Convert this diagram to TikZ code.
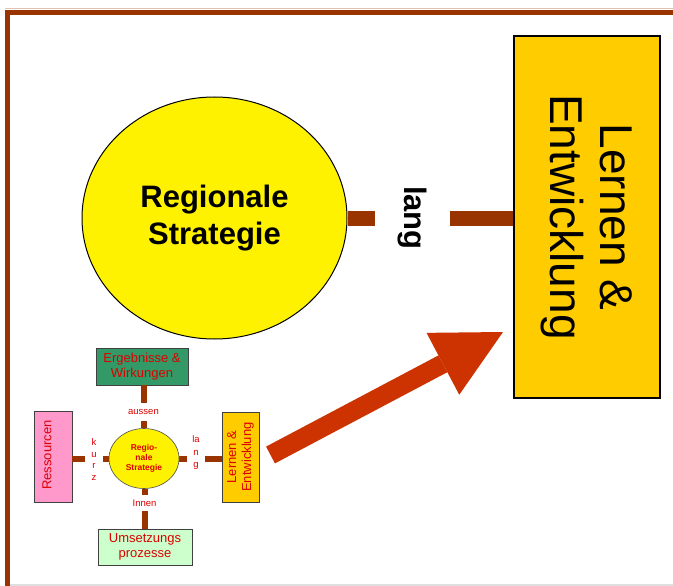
\documentclass[tikz,border=0pt]{standalone}
\usepackage{fontspec}
\setmainfont{Liberation Sans}
\usetikzlibrary{shapes,positioning,calc,arrows.meta}

\definecolor{framebrown}{HTML}{993300}
\definecolor{arrowred}{HTML}{CC3300}
\definecolor{textred}{HTML}{DD0000}
\definecolor{goldbox}{HTML}{FFCC00}
\definecolor{greenbox}{HTML}{339966}
\definecolor{pinkbox}{HTML}{FF99CC}
\definecolor{mintbox}{HTML}{CCFFCC}

\begin{document}
\begin{tikzpicture}[x=1pt,y=-1pt,
  bigbar/.style={draw=framebrown,line width=15pt},
  smallbar/.style={draw=framebrown,line width=6pt},
  boxstyle/.style={rectangle,draw=black!75,line width=0.8pt,inner sep=0pt},
  redtext/.style={inner sep=0pt,align=center,text=textred,font=\fontsize{13}{15}\selectfont},
  tinylabel/.style={inner sep=0pt,align=center,text=textred,font=\fontsize{9.5}{11}\selectfont}
]
\useasboundingbox (0,0) rectangle (673,586);

% page frame
\draw[framebrown!30,line width=1pt] (5,8.5) -- (673,8.5);
\draw[gray!25,line width=1.5pt] (10,585) -- (673,585);
\draw[framebrown,line width=5pt] (7.5,586) -- (7.5,12.5) -- (673,12.5);

% big part
\node [ellipse,draw,line width=1pt,fill=yellow,minimum width=265pt,minimum height=242pt,
  align=center,font=\bfseries\fontsize{31}{37}\selectfont] (strat) at (214.5,218) {Regionale\\Strategie};
\node [rectangle,draw,line width=2pt,fill=goldbox,minimum width=146pt,minimum height=361pt] (lernen) at (587,217) { };
\node [rotate=-90,align=center,font=\fontsize{46}{50}\selectfont] (lernentext) at (lernen.center) {Lernen \&\\Entwicklung};
% rotated: south is on the left, north on the right
\node [rotate=-90,inner sep=0pt,minimum width=60pt,minimum height=75pt,font=\bfseries\fontsize{31}{37}\selectfont] (langlbl) at (412.5,218) {lang};

\draw[bigbar] (langlbl.south |- strat.east) -- (strat.east);
\draw[bigbar] (langlbl.north |- strat.east) -- (lernen.west |- strat.east);

% small part
\node [ellipse,draw=black!70,line width=0.6pt,fill=yellow,minimum width=70pt,minimum height=60pt,inner sep=0pt,
  align=center,text=textred,font=\bfseries\fontsize{8.5}{10}\selectfont] (sstrat) at (144,458.5) {Regio-\\nale\\Strategie};
\node [boxstyle,fill=greenbox,minimum width=92pt,minimum height=37pt] (ergeb) at (142,366.5) { };
\node [redtext] (ergebtext) at (ergeb.center) {Ergebnisse \&\\Wirkungen};
\node [boxstyle,fill=mintbox,minimum width=94pt,minimum height=36pt] (umsetz) at (145,547) { };
\node [redtext] (umsetztext) at (umsetz.center) {Umsetzungs\\prozesse};
\node [boxstyle,fill=pinkbox,minimum width=38pt,minimum height=91pt] (ress) at (53,456.5) { };
\node [redtext,rotate=90] (resstext) at (47,455) {Ressourcen};
\node [boxstyle,fill=goldbox,minimum width=37pt,minimum height=90pt] (slernen) at (240.5,457) { };
\node [redtext,rotate=90] (slernentext) at (slernen.center) {Lernen \&\\Entwicklung};

\node [tinylabel,minimum height=18pt] (saussen) at (143.5,412) {aussen};
\node [tinylabel,minimum height=16pt] (sinnen) at (144.5,503) {Innen};
\node [tinylabel,minimum width=18pt,font=\fontsize{9.5}{11.5}\selectfont] (skurz) at (94,459.5) {k\\u\\r\\z};
\node [tinylabel,minimum width=18pt,font=\fontsize{9.5}{12.5}\selectfont] (slang) at (196,453) {la\\n\\g};

\draw[smallbar] (saussen.north) -- (saussen.north |- ergeb.south);
\draw[smallbar] (saussen.south) -- (saussen.south |- sstrat.north);
\draw[smallbar] (sinnen.north) -- (sinnen.north |- sstrat.south);
\draw[smallbar] (sinnen.south) -- (sinnen.south |- umsetz.north);
\draw[smallbar] (sstrat.west) -- (sstrat.west -| skurz.east);
\draw[smallbar] (sstrat.west -| skurz.west) -- (sstrat.west -| ress.east);
\draw[smallbar] (sstrat.east) -- (sstrat.east -| slang.west);
\draw[smallbar] (sstrat.east -| slang.east) -- (sstrat.east -| slernen.west);

% big arrow
\coordinate (atail) at (270.5,455);
\coordinate (atip) at (503,332);
\draw[arrowred,line width=19pt,-{Triangle[width=70pt,length=68pt,line width=0pt]}] (atail) -- (atip);

\end{tikzpicture}
\end{document}
